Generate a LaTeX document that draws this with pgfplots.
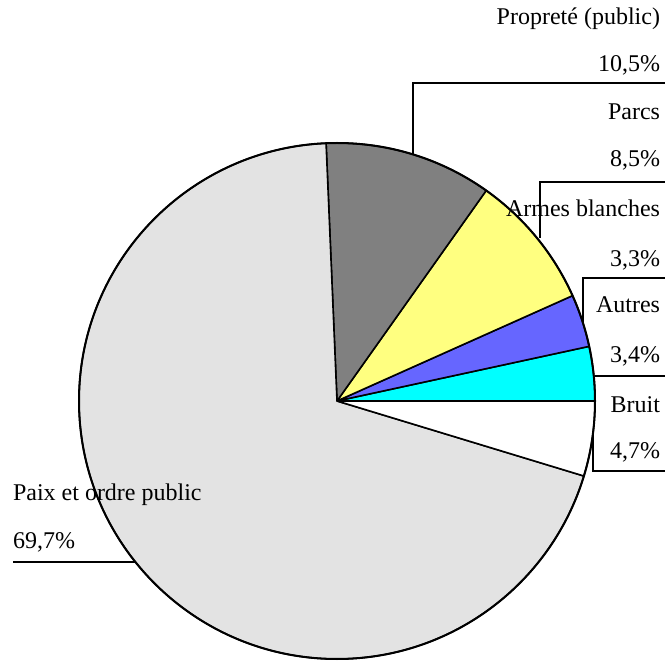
\documentclass[border=0pt]{standalone}
\usepackage{pgfplots}
\pgfplotsset{compat=1.18}
\usepackage{fontspec}
\setmainfont{Liberation Serif}
\definecolor{cAutres}{RGB}{0,255,255}
\definecolor{cArmes}{RGB}{102,102,255}
\definecolor{cParcs}{RGB}{255,255,128}
\definecolor{cProp}{RGB}{128,128,128}
\definecolor{cPaix}{RGB}{227,227,227}
\definecolor{cBruit}{RGB}{255,255,255}
% slice values (percent), counter-clockwise from 0 degrees
\def\vAutres{3.4}
\def\vArmes{3.3}
\def\vParcs{8.5}
\def\vProp{10.5}
\def\vPaix{69.7}
\def\vBruit{4.7}
\pgfmathsetmacro{\tot}{\vAutres+\vArmes+\vParcs+\vProp+\vPaix+\vBruit}
\pgfmathsetmacro{\fac}{360/\tot}
\pgfmathsetmacro{\aA}{0}
\pgfmathsetmacro{\aB}{\aA+\fac*\vAutres}
\pgfmathsetmacro{\aC}{\aB+\fac*\vArmes}
\pgfmathsetmacro{\aD}{\aC+\fac*\vParcs}
\pgfmathsetmacro{\aE}{\aD+\fac*\vProp}
\pgfmathsetmacro{\aF}{\aE+\fac*\vPaix}
\pgfmathsetmacro{\aG}{360}
\newcommand{\slice}[3]{%
  \filldraw[fill=#3, draw=black, line width=0.8pt, line join=round]
    (axis cs:337,259) -- ++(#1:129pt) arc[start angle=#1, end angle=#2, radius=129pt] -- cycle;}
\tikzset{lbl/.style={inner sep=0pt, outer sep=0pt, font=\fontsize{12}{14}\selectfont}}
\begin{document}
\begin{tikzpicture}
\begin{axis}[
  x=0.5pt, y=0.5pt, scale only axis,
  xmin=0, xmax=665, ymin=0, ymax=660,
  hide axis, clip=false,
]
\slice{\aA}{\aB}{cAutres}
\slice{\aB}{\aC}{cArmes}
\slice{\aC}{\aD}{cParcs}
\slice{\aD}{\aE}{cProp}
\slice{\aE}{\aF}{cPaix}
\slice{\aF}{\aG}{cBruit}
\draw[line width=1pt] (axis cs:337,259) circle[radius=129pt];
% leader lines
\draw[line width=0.6pt] (axis cs:413,506) -- (axis cs:413,577) -- (axis cs:665,577);
\draw[line width=0.6pt] (axis cs:540,422) -- (axis cs:540,478) -- (axis cs:665,478);
\draw[line width=0.6pt] (axis cs:583,337) -- (axis cs:583,382) -- (axis cs:665,382);
\draw[line width=0.6pt] (axis cs:595,284) -- (axis cs:665,284);
\draw[line width=0.6pt] (axis cs:593,227) -- (axis cs:593,189) -- (axis cs:665,189);
\draw[line width=0.6pt] (axis cs:135,98) -- (axis cs:13,98);
% labels
\node[lbl, anchor=base east] at (axis cs:660,635) {Propreté (public)};
\node[lbl, anchor=base east] at (axis cs:660,588) {10,5\%};
\node[lbl, anchor=base east] at (axis cs:660,540) {Parcs};
\node[lbl, anchor=base east] at (axis cs:660,493) {8,5\%};
\node[lbl, anchor=base east] at (axis cs:660,443) {Armes blanches};
\node[lbl, anchor=base east] at (axis cs:660,393) {3,3\%};
\node[lbl, anchor=base east] at (axis cs:660,347) {Autres};
\node[lbl, anchor=base east] at (axis cs:660,298) {3,4\%};
\node[lbl, anchor=base east] at (axis cs:660,248) {Bruit};
\node[lbl, anchor=base east] at (axis cs:660,202) {4,7\%};
\node[lbl, anchor=base west] at (axis cs:13,160) {Paix et ordre public};
\node[lbl, anchor=base west] at (axis cs:13,112) {69,7\%};
\end{axis}
\pgfresetboundingbox
\useasboundingbox (0,0) rectangle (332.5pt,330pt);
\end{tikzpicture}
\end{document}
